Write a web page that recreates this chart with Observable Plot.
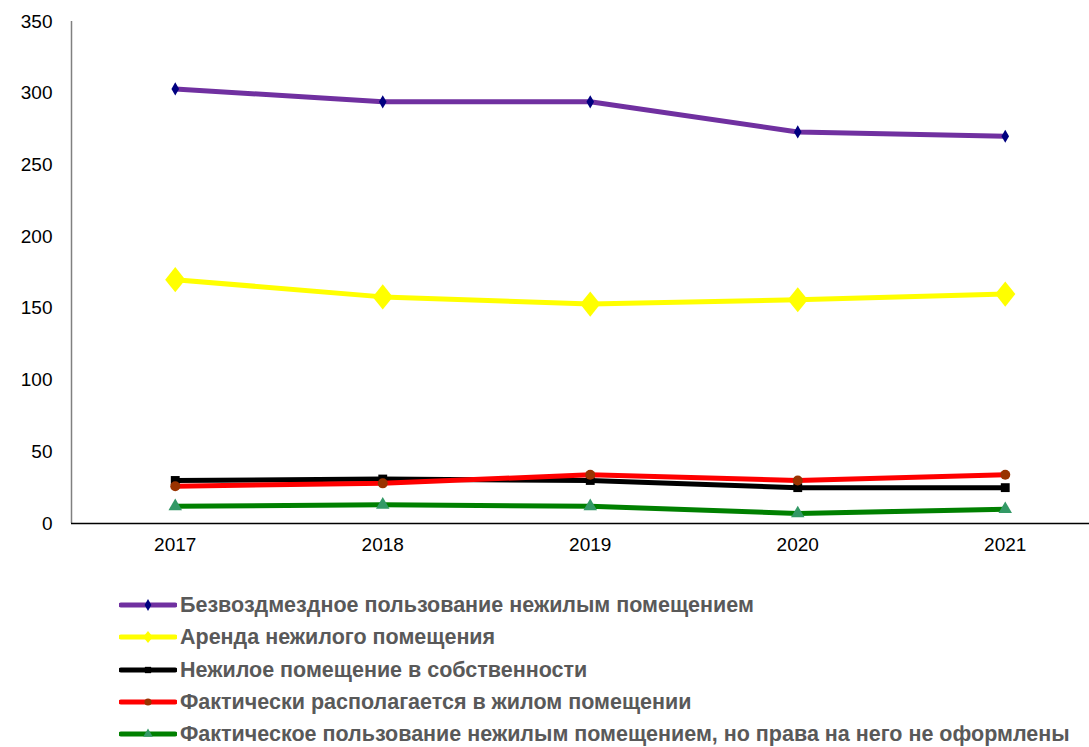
<!DOCTYPE html>
<html>
<head>
<meta charset="utf-8">
<script src="https://cdn.jsdelivr.net/npm/d3@7"></script>
<script src="https://cdn.jsdelivr.net/npm/@observablehq/plot@0.6"></script>
<style>
  body { margin: 0; background: #fff; font-family: Arial, "Liberation Sans", sans-serif; }
  #legend { position: relative; margin: 0; padding: 0; }
  .row { display: flex; align-items: center; height: 32.3px; padding-left: 119px; }
  .row svg { flex: none; }
  .row span { font-weight: bold; color: #595959; font-size: 21.5px; line-height: 24px; margin-left: 3px; white-space: nowrap; }
</style>
</head>
<body>
<div id="chart"></div>
<div id="legend"></div>
<script>
const years = [2017, 2018, 2019, 2020, 2021];
const seriesNames = [
  "Безвоздмездное пользование нежилым помещением",
  "Аренда нежилого помещения",
  "Нежилое помещение в собственности",
  "Фактически располагается в жилом помещении",
  "Фактическое пользование нежилым помещением, но права на него не оформлены"
];
const free   = [303, 294, 294, 273, 270];
const rent   = [170, 158, 153, 156, 160];
const owned  = [30, 31, 30, 25, 25];
const living = [26, 28, 34, 30, 34];
const actual = [12, 13, 12, 7, 10];
const yTicks = [0, 50, 100, 150, 200, 250, 300, 350];

const lineColors   = ["#7030A0", "#FFFF00", "#000000", "#FF0000", "#008000"];
const markerColors = ["#000080", "#FFFF00", "#000000", "#993300", "#339966"];
const markerSizes  = [4, 9, 5, 5, 5];

// wide rhombus for the yellow series
const wideDiamond = {
  draw(context, size) {
    const h = Math.sqrt(size / 1.6);
    const w = h * 0.8;
    context.moveTo(0, -h);
    context.lineTo(w, 0);
    context.lineTo(0, h);
    context.lineTo(-w, 0);
    context.closePath();
  }
};
const symbolTypes = [d3.symbolDiamond, wideDiamond, d3.symbolSquare, d3.symbolCircle, d3.symbolTriangle];

const values = [free, rent, owned, living, actual];
const data = values.map((vals, s) => years.map((yr, i) => ({year: yr, value: vals[i], s})));

const marks = [
  Plot.ruleX([2016.5], {stroke: "#808080", strokeWidth: 1.5, y1: 0, y2: 350}),
  Plot.ruleY([0], {stroke: "#000", strokeWidth: 1.5})
];
data.forEach((d, s) => {
  marks.push(Plot.line(d, {x: "year", y: "value", stroke: lineColors[s], strokeWidth: 5}));
  marks.push(Plot.dot(d, {x: "year", y: "value", symbol: symbolTypes[s], r: markerSizes[s], fill: markerColors[s], stroke: "none"}));
});

const chart = Plot.plot({
  width: 1089,
  height: 570,
  marginLeft: 71,
  marginRight: 0,
  marginTop: 21,
  marginBottom: 47,
  style: {fontFamily: "Arial, 'Liberation Sans', sans-serif", fontSize: "19px", color: "#000", background: "#fff"},
  x: {domain: [2016.5, 2021.406], ticks: years, tickFormat: d => String(d), tickSize: 0, tickPadding: 14, label: null},
  y: {domain: [0, 350], ticks: yTicks, tickSize: 0, tickPadding: 19, label: null},
  marks
});
document.getElementById("chart").appendChild(chart);

const legend = document.getElementById("legend");
legend.style.marginTop = "19px";
seriesNames.forEach((name, s) => {
  const row = document.createElement("div");
  row.className = "row";
  const w = 58, h = 16;
  const sym = d3.symbol().type(symbolTypes[s]).size(s === 1 ? 60 : 40);
  row.innerHTML = `<svg width="${w}" height="${h}"><line x1="2" x2="${w-2}" y1="${h/2}" y2="${h/2}" stroke="${lineColors[s]}" stroke-width="5" stroke-linecap="round"/><path transform="translate(${w/2},${h/2})" d="${sym()}" fill="${markerColors[s]}"/></svg><span>${name}</span>`;
  legend.appendChild(row);
});
</script>
</body>
</html>
